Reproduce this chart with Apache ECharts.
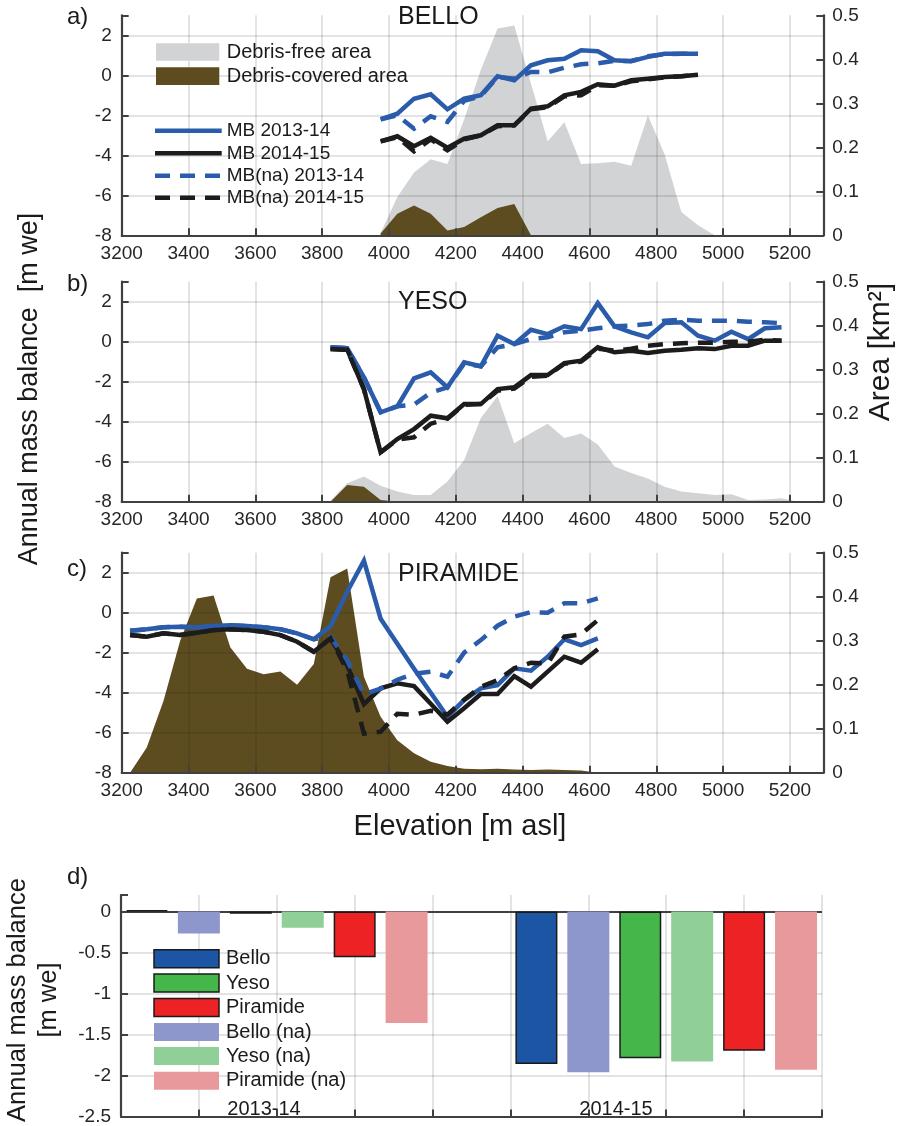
<!DOCTYPE html>
<html>
<head>
<meta charset="utf-8">
<script src="https://cdn.jsdelivr.net/npm/echarts@6/dist/echarts.min.js"></script>
<style>
  html, body { margin: 0; padding: 0; background: #ffffff; }
  #chart { width: 903px; height: 1126px; }
</style>
</head>
<body>
<div id="chart"></div>
<script>
// ---------- Bello ----------
const elevBello = [3975,4025,4075,4125,4175,4225,4275,4325,4375,4425,4475,4525,4575,4625,4675,4725,4775,4825,4875,4925];
const mbBello1314   = [-2.2,-1.92,-1.17,-0.95,-1.7,-1.17,-1.0,-0.05,-0.25,0.5,0.75,0.83,1.25,1.2,0.75,0.7,0.92,1.08,1.08,1.08];
const mbBello1415   = [-3.3,-3.05,-3.55,-3.12,-3.62,-3.17,-3.0,-2.5,-2.5,-1.67,-1.55,-1.0,-0.83,-0.45,-0.52,-0.25,-0.17,-0.08,-0.05,0.03];
const mbBelloNa1314 = [-2.2,-2.0,-2.67,-2.05,-2.33,-1.28,-1.05,-0.08,-0.17,0.17,0.15,0.38,0.55,0.6,0.72,0.72,0.95,1.05,1.08,1.08];
const mbBelloNa1415 = [-3.3,-3.1,-3.8,-3.2,-3.75,-3.2,-3.0,-2.55,-2.5,-1.7,-1.6,-1.05,-1.0,-0.5,-0.52,-0.3,-0.2,-0.1,-0.05,0.03];
const areaElevBello = [3975,4025,4075,4125,4175,4225,4275,4325,4375,4425,4475,4525,4575,4625,4675,4725,4775,4825,4875,4925,4975];
const cleanBello  = [0.005,0.087,0.143,0.173,0.162,0.263,0.376,0.47,0.477,0.345,0.214,0.257,0.162,0.164,0.167,0.158,0.272,0.184,0.053,0.023,0.0];
const debrisBello = [0.004,0.049,0.068,0.049,0.011,0.019,0.041,0.062,0.071,0.0];

// ---------- Yeso ----------
const elevYeso = [3825,3875,3925,3975,4025,4075,4125,4175,4225,4275,4325,4375,4425,4475,4525,4575,4625,4675,4725,4775,4825,4875,4925,4975,5025,5075,5125,5175];
const mbYeso1314   = [-0.28,-0.32,-1.78,-3.53,-3.23,-1.83,-1.53,-2.28,-1.03,-1.23,0.3,-0.12,0.6,0.38,0.77,0.63,1.93,0.77,0.47,0.22,0.93,0.97,0.3,0.05,0.5,0.13,0.67,0.72];
const mbYeso1415   = [-0.37,-0.4,-2.37,-5.53,-4.87,-4.37,-3.7,-3.83,-3.12,-3.12,-2.37,-2.28,-1.67,-1.67,-1.07,-0.95,-0.28,-0.53,-0.45,-0.57,-0.45,-0.4,-0.33,-0.37,-0.2,-0.2,0.05,0.05];
const mbYesoNa1314 = [-0.28,-0.32,-1.78,-3.53,-3.23,-3.15,-2.55,-2.28,-1.1,-1.23,-0.28,-0.12,0.13,0.22,0.47,0.55,0.67,0.77,0.8,0.88,1.05,1.1,1.05,1.05,1.05,1.0,0.97,0.93];
const mbYesoNa1415 = [-0.37,-0.4,-2.37,-5.53,-4.9,-4.78,-4.1,-3.85,-3.15,-3.12,-2.45,-2.35,-1.75,-1.7,-1.1,-1.0,-0.35,-0.45,-0.35,-0.2,-0.12,-0.08,-0.05,-0.05,0.0,0.0,0.1,0.05];
const areaElevYeso = [3825,3875,3925,3975,4025,4075,4125,4175,4225,4275,4325,4375,4425,4475,4525,4575,4625,4675,4725,4775,4825,4875,4925,4975,5025,5075,5125,5175,5225];
const cleanYeso  = [0.002,0.042,0.057,0.036,0.023,0.015,0.015,0.046,0.095,0.19,0.24,0.133,0.156,0.177,0.145,0.155,0.13,0.08,0.065,0.053,0.034,0.023,0.019,0.015,0.017,0.004,0.005,0.008,0.0];
const debrisYeso = [0.0,0.038,0.034,0.004,0.0];

// ---------- Piramide ----------
const elevPiramide = [3225,3275,3325,3375,3425,3475,3525,3575,3625,3675,3725,3775,3825,3875,3925,3975,4025,4075,4125,4175,4225,4275,4325,4375,4425,4475,4525,4575,4625];
const mbPiramide1314   = [-0.9,-0.83,-0.73,-0.7,-0.73,-0.67,-0.63,-0.67,-0.73,-0.83,-1.03,-1.33,-0.67,1.05,2.6,-0.3,-1.55,-2.8,-4.0,-5.2,-4.37,-3.78,-3.62,-2.78,-2.9,-2.2,-1.33,-1.62,-1.28];
const mbPiramide1415   = [-1.12,-1.2,-1.03,-1.12,-1.0,-0.87,-0.83,-0.87,-0.95,-1.12,-1.45,-1.95,-1.28,-2.65,-4.57,-3.78,-3.53,-3.67,-4.55,-5.45,-4.78,-4.07,-4.07,-3.17,-3.7,-2.95,-2.2,-2.5,-1.83];
const mbPiramideNa1314 = [-0.9,-0.83,-0.73,-0.7,-0.73,-0.67,-0.63,-0.67,-0.73,-0.83,-1.03,-1.33,-1.2,-2.4,-4.07,-3.8,-3.35,-3.05,-2.95,-3.2,-2.0,-1.37,-0.65,-0.2,0.03,0.0,0.47,0.47,0.72];
const mbPiramideNa1415 = [-1.12,-1.2,-1.03,-1.12,-1.0,-0.87,-0.83,-0.87,-0.95,-1.12,-1.45,-1.95,-1.28,-2.9,-6.05,-5.95,-5.05,-5.1,-4.9,-5.1,-4.35,-3.7,-3.37,-2.78,-2.5,-2.55,-1.2,-1.08,-0.37];
const areaElevPiramide = [3225,3275,3325,3375,3425,3475,3525,3575,3625,3675,3725,3775,3825,3875,3925,3975,4025,4075,4125,4175,4225,4275,4325,4375,4425,4475,4525,4575,4625];
const debrisPiramide = [0.0,0.057,0.163,0.3,0.396,0.403,0.285,0.236,0.224,0.23,0.2,0.247,0.444,0.464,0.218,0.127,0.074,0.044,0.025,0.015,0.009,0.008,0.009,0.007,0.006,0.007,0.006,0.005,0.0];

// ---------- Glacier-wide balance (panel d) ----------
const years = ['2013-14', '2014-15'];
const barNames = ['Bello', 'Bello (na)', 'Yeso', 'Yeso (na)', 'Piramide', 'Piramide (na)'];
const balBello      = [0.015, -1.86];
const balBelloNa    = [-0.27, -1.96];
const balYeso       = [-0.03, -1.79];
const balYesoNa     = [-0.2, -1.83];
const balPiramide   = [-0.56, -1.70];
const balPiramideNa = [-1.36, -1.93];
const legendOrder = ['Bello', 'Yeso', 'Piramide', 'Bello (na)', 'Yeso (na)', 'Piramide (na)'];

// ---------- styling ----------
const FONT = '"Liberation Sans", Arial, sans-serif';
const AXC = '#404040';
const TXT = '#262626';
const GRIDC = 'rgba(38,38,38,0.17)';
const BLUE = '#2b5cab';
const BLACK = '#1c1c1c';
const GRAY = '#d2d3d5';
const OLIVE = '#5c4c1f';
const DASH = [15, 10];
const LW = 4.5;
const barColors = {
  'Bello': '#1c55a4', 'Bello (na)': '#8e97cb',
  'Yeso': '#45b649', 'Yeso (na)': '#91cf99',
  'Piramide': '#ed2224', 'Piramide (na)': '#e8999c'
};
const barValues = {
  'Bello': balBello, 'Bello (na)': balBelloNa,
  'Yeso': balYeso, 'Yeso (na)': balYesoNa,
  'Piramide': balPiramide, 'Piramide (na)': balPiramideNa
};

const pairs = (xs, ys) => ys.map((v, i) => [xs[i], v]);

const panels = [
  { top: 15.3, title: 'BELLO', titleY: 17, letter: 'a)', letterY: 17,
    elev: elevBello, s1: mbBello1314, s2: mbBello1415, n1: mbBelloNa1314, n2: mbBelloNa1415,
    areaElev: areaElevBello, clean: cleanBello, debris: debrisBello },
  { top: 281.7, title: 'YESO', titleY: 302, letter: 'b)', letterY: 284,
    elev: elevYeso, s1: mbYeso1314, s2: mbYeso1415, n1: mbYesoNa1314, n2: mbYesoNa1415,
    areaElev: areaElevYeso, clean: cleanYeso, debris: debrisYeso },
  { top: 552.7, title: 'PIRAMIDE', titleY: 574, letter: 'c)', letterY: 569,
    elev: elevPiramide, s1: mbPiramide1314, s2: mbPiramide1415, n1: mbPiramideNa1314, n2: mbPiramideNa1415,
    areaElev: areaElevPiramide, clean: null, debris: debrisPiramide }
];

const grids = [], xAxes = [], yAxes = [], series = [], graphics = [];

const labelStyle = { fontSize: 19, color: TXT, fontFamily: FONT };

panels.forEach((p, i) => {
  grids.push({ left: 121.7, width: 701.6, top: p.top, height: 220, containLabel: false });
  xAxes.push({
    type: 'value', gridIndex: i, min: 3200, max: 5300, interval: 200, z: 3,
    axisLine: { show: true, onZero: false, lineStyle: { color: AXC, width: 2.2 } },
    axisTick: { show: true, inside: true, length: 7, lineStyle: { color: AXC, width: 2 } },
    axisLabel: Object.assign({ margin: 9, formatter: v => (v > 5250 ? '' : String(v)) }, labelStyle),
    splitLine: { show: true, lineStyle: { color: GRIDC, width: 1.5 } }
  });
  yAxes.push({
    type: 'value', gridIndex: i, position: 'left', min: -8, max: 3, interval: 2, z: 3,
    axisLine: { show: true, onZero: false, lineStyle: { color: AXC, width: 2.2 } },
    axisTick: { show: true, inside: true, length: 7, lineStyle: { color: AXC, width: 2 } },
    axisLabel: Object.assign({ margin: 10, formatter: v => (v > 2.5 ? '' : String(v)) }, labelStyle),
    splitLine: { show: true, showMaxLine: false, lineStyle: { color: GRIDC, width: 1.5 } }
  });
  yAxes.push({
    type: 'value', gridIndex: i, position: 'right', min: 0, max: 0.5, interval: 0.1, z: 3,
    axisLine: { show: true, onZero: false, lineStyle: { color: AXC, width: 2.2 } },
    axisTick: { show: true, inside: true, length: 7, lineStyle: { color: AXC, width: 2 } },
    axisLabel: Object.assign({ margin: 9 }, labelStyle),
    splitLine: { show: false }
  });
  const yL = 2 * i, yR = 2 * i + 1;
  if (p.clean) {
    series.push({ type: 'line', name: 'Debris-free area', xAxisIndex: i, yAxisIndex: yR, z: 1,
      data: pairs(p.areaElev, p.clean), symbol: 'none', silent: true,
      lineStyle: { width: 0 }, areaStyle: { color: GRAY, opacity: 1 } });
  }
  series.push({ type: 'line', name: 'Debris-covered area', xAxisIndex: i, yAxisIndex: yR, z: 1,
    data: pairs(p.areaElev, p.debris), symbol: 'none', silent: true,
    lineStyle: { width: 0 }, areaStyle: { color: OLIVE, opacity: 1 } });
  const lines = [
    ['MB 2013-14', p.s1, BLUE, 'solid'],
    ['MB 2014-15', p.s2, BLACK, 'solid'],
    ['MB(na) 2013-14', p.n1, BLUE, DASH],
    ['MB(na) 2014-15', p.n2, BLACK, DASH]
  ];
  lines.forEach(([nm, vals, col, type]) => {
    series.push({ type: 'line', name: nm, xAxisIndex: i, yAxisIndex: yL, z: 5,
      data: pairs(p.elev, vals), symbol: 'none', silent: true,
      lineStyle: { color: col, width: LW, type: type, join: 'miter', cap: 'butt' } });
  });
  graphics.push({ type: 'text', x: 398, y: p.titleY, z: 100,
    style: { text: p.title, fontSize: 25, fontFamily: FONT, fill: '#1a1a1a', textAlign: 'left', textVerticalAlign: 'middle' } });
  graphics.push({ type: 'text', x: 67, y: p.letterY, z: 100,
    style: { text: p.letter, fontSize: 24, fontFamily: FONT, fill: '#1a1a1a', textAlign: 'left', textVerticalAlign: 'middle' } });
});

// ---------- panel d: grouped bars ----------
const gd = 3;
grids.push({ left: 121, width: 701, top: 895, height: 223.3, containLabel: false });
xAxes.push({
  type: 'value', gridIndex: gd, min: 3, max: 12, interval: 1, z: 3,
  axisLine: { show: true, onZero: false, lineStyle: { color: AXC, width: 2.2 } },
  axisTick: { show: true, inside: true, length: 7, lineStyle: { color: AXC, width: 2 } },
  axisLabel: { show: false },
  splitLine: { show: true, lineStyle: { color: GRIDC, width: 1.5 } }
});
yAxes.push({
  type: 'value', gridIndex: gd, position: 'left', min: -2.5, max: 0.2, interval: 0.5, z: 3,
  axisLine: { show: true, onZero: false, lineStyle: { color: AXC, width: 2.2 } },
  axisTick: { show: true, inside: true, length: 7, lineStyle: { color: AXC, width: 2 } },
  axisLabel: Object.assign({ margin: 10, formatter: v => (v > 0.1 ? '' : String(v)) }, labelStyle),
  splitLine: { show: true, showMaxLine: false, lineStyle: { color: GRIDC, width: 1.5 } }
});
const groupCenter = [5, 10];      // x position of each balance year
const slot = 2 / 3;               // spacing between neighbouring bars
barNames.forEach((nm, k) => {
  const solid = nm.indexOf('(na)') < 0;
  const s = {
    type: 'bar', name: nm, xAxisIndex: gd, yAxisIndex: 6, z: 4,
    barWidth: 42, barGap: '-100%', silent: true,
    data: barValues[nm].map((v, g) => [groupCenter[g] + (k - 2.5) * slot, v]),
    itemStyle: { color: barColors[nm], borderColor: solid ? '#1a1a1a' : barColors[nm], borderWidth: solid ? 1.5 : 0 }
  };
  if (k === 0) {
    s.markLine = { silent: true, symbol: ['none', 'none'], label: { show: false }, z: 3,
      lineStyle: { color: AXC, width: 2.2, type: 'solid' }, data: [{ yAxis: 0 }] };
  }
  series.push(s);
});

// ---------- legends and free text ----------
const T = (text, x, y, size, align, rot) => ({ type: 'text', x: x, y: y, z: 100, rotation: rot || 0,
  style: { text: text, fontSize: size, fontFamily: FONT, fill: '#1a1a1a', textAlign: align || 'left', textVerticalAlign: 'middle' } });

// area legend (panel a)
graphics.push({ type: 'rect', z: 100, shape: { x: 156, y: 43.3, width: 63.3, height: 17.4 }, style: { fill: GRAY } });
graphics.push(T('Debris-free area', 226.7, 52, 20));
graphics.push({ type: 'rect', z: 100, shape: { x: 156, y: 67.3, width: 63.3, height: 17.7 }, style: { fill: OLIVE } });
graphics.push(T('Debris-covered area', 226.7, 76.2, 20));
// line legend (panel a)
const lineLegend = [
  ['MB 2013-14', BLUE, null, 130.7],
  ['MB 2014-15', BLACK, null, 153.3],
  ['MB(na) 2013-14', BLUE, DASH, 175.7],
  ['MB(na) 2014-15', BLACK, DASH, 197.7]
];
lineLegend.forEach(([nm, col, dash, y]) => {
  graphics.push({ type: 'line', z: 100, shape: { x1: 155, y1: y, x2: 221.7, y2: y },
    style: { stroke: col, lineWidth: LW, lineDash: dash || null } });
  graphics.push(T(nm, 226.7, y, 19));
});
// bar legend (panel d)
const barLegendY = [958.8, 983, 1007.5, 1032, 1056, 1080.8];
legendOrder.forEach((nm, k) => {
  const solid = nm.indexOf('(na)') < 0;
  graphics.push({ type: 'rect', z: 100, shape: { x: 154, y: barLegendY[k] - 9, width: 65, height: 18 },
    style: { fill: barColors[nm], stroke: solid ? '#1a1a1a' : null, lineWidth: solid ? 1.5 : 0 } });
  graphics.push(T(nm, 226, barLegendY[k], 20));
});
// year labels inside panel d
graphics.push(T(years[0], 264, 1109, 20, 'center'));
graphics.push(T(years[1], 616, 1109, 20, 'center'));
graphics.push(T('d)', 67, 877, 24));
// axis titles
graphics.push(T('Annual mass balance  [m we]', 30, 389, 27, 'center', Math.PI / 2));
graphics.push(T('Elevation [m asl]', 460, 827, 29, 'center'));
graphics.push(T('Area [km²]', 881, 352, 30, 'center', Math.PI / 2));
graphics.push(T('Annual mass balance', 18, 1000, 25.5, 'center', Math.PI / 2));
graphics.push(T('[m we]', 49, 1000, 25.5, 'center', Math.PI / 2));

const chart = echarts.init(document.getElementById('chart'), null, { renderer: 'canvas' });
chart.setOption({
  animation: false,
  backgroundColor: '#ffffff',
  textStyle: { fontFamily: FONT },
  grid: grids,
  xAxis: xAxes,
  yAxis: yAxes,
  series: series,
  graphic: graphics
});
</script>
</body>
</html>
